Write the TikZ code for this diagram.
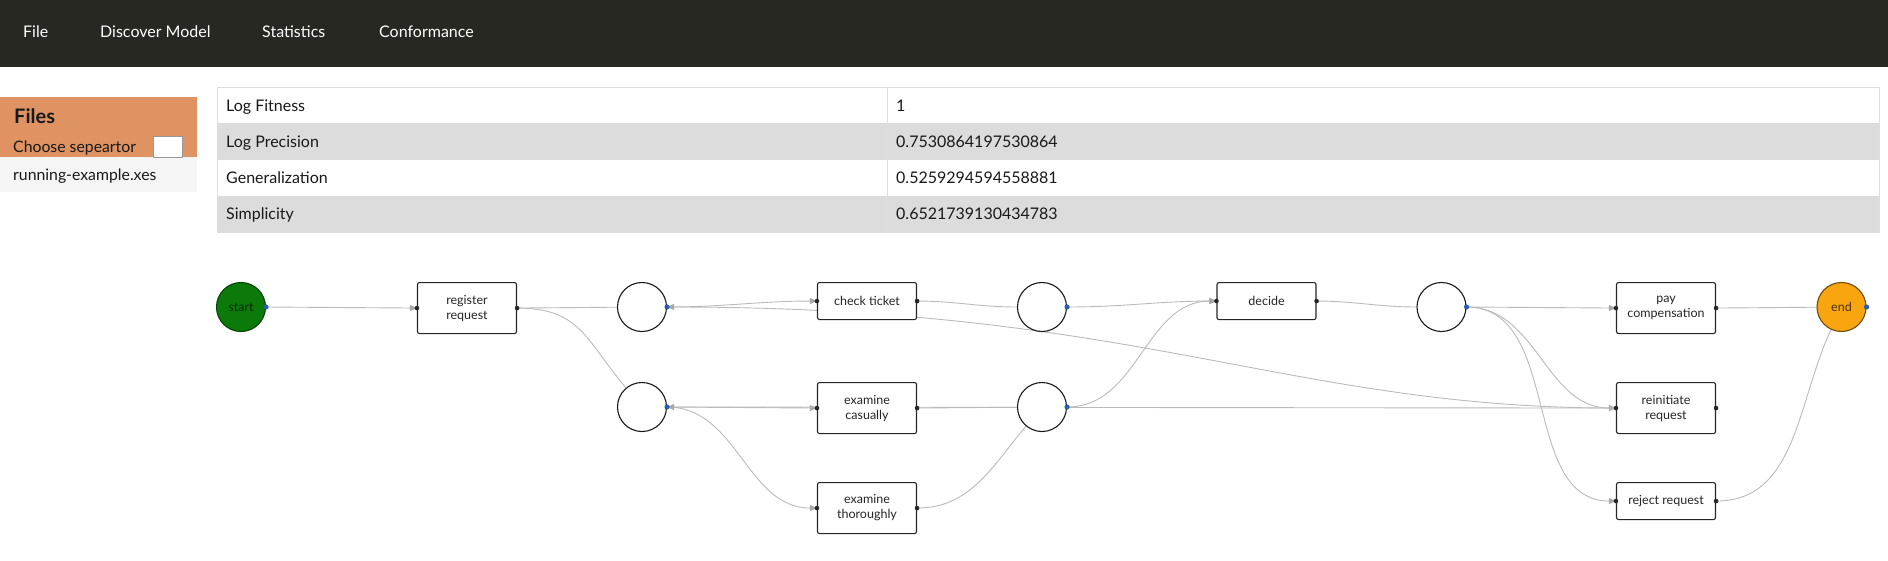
\documentclass[tikz,border=0pt]{standalone}
\usepackage{fontspec}
\setmainfont{Lato}
\usetikzlibrary{arrows.meta,backgrounds}

\definecolor{barbg}{HTML}{272822}
\definecolor{rowgray}{HTML}{DCDCDC}
\definecolor{tableline}{HTML}{DDDDDD}
\definecolor{sideorange}{HTML}{DF9262}
\definecolor{sidegray}{HTML}{F5F5F5}
\definecolor{arcgray}{HTML}{BABABA}
\definecolor{tipgray}{HTML}{A8A8A8}
\definecolor{portblue}{HTML}{2B5EA8}
\definecolor{startgreen}{HTML}{0B7A0B}
\definecolor{endorange}{HTML}{F8A50F}

\begin{document}
\begin{tikzpicture}[
  x=1pt, y=-1pt,
  menu/.style={anchor=base west, inner sep=0pt, text=white,
    font=\fontsize{16}{19}\selectfont},
  cell/.style={anchor=base west, inner sep=0pt, text=black!90,
    font=\fontsize{16}{19}\selectfont},
  trans/.style={draw=black!85, fill=white, rounded corners=2pt,
    line width=1.1pt, minimum width=99pt, anchor=north, align=center,
    text=black!85, font=\fontsize{12.5}{15}\selectfont},
  trans two/.style={trans, minimum height=51pt},
  trans one/.style={trans, minimum height=37pt},
  place/.style={circle, draw=black!90, line width=1.1pt, fill=white,
    minimum size=49pt, inner sep=0pt, font=\fontsize{12.5}{15}\selectfont},
  arc/.style={draw=arcgray, line width=0.9pt},
  arc arrow/.style={arc, -{Triangle[length=7pt,width=6pt,color=tipgray]}},
]
\useasboundingbox (0,0) rectangle (1888,560);

% menu bar
\fill[barbg] (0,0) rectangle (1888,67);
\node[menu] (mfile) at (23,37) {File};
\node[menu] (mdisc) at (100,37) {Discover Model};
\node[menu] (mstat) at (262,37) {Statistics};
\node[menu] (mconf) at (379,37) {Conformance};

% files panel
\fill[sideorange] (0,97) rectangle (197,157);
\fill[sidegray] (0,157) rectangle (197,192);
\filldraw[fill=white, draw=black!40] (153,136) rectangle (182,157);
\node[cell, font=\bfseries\fontsize{20}{24}\selectfont] (files) at (14,123) {Files};
\node[cell, font=\fontsize{15.8}{19}\selectfont] (sep) at (13,152) {Choose sepeartor};
\node[cell, font=\fontsize{15.8}{19}\selectfont] (xes) at (13,180) {running-example.xes};

% measures
\foreach \i/\c/\lab/\val in {0/white/Log Fitness/1,
    1/rowgray/Log Precision/0.7530864197530864,
    2/white/Generalization/0.5259294594558881,
    3/rowgray/Simplicity/0.6521739130434783} {
  \fill[\c] (217,{87+36.25*\i}) rectangle (1879,{123.25+36.25*\i});
  \node[cell] (lab\i) at (226,{111+36.25*\i}) {\lab};
  \node[cell] (val\i) at (896,{111+36.25*\i}) {\val};
}
\draw[tableline] (217,87) rectangle (1879,232);
\draw[tableline] (887,87) -- (887,232);

% petri net
\node[place, fill=startgreen, draw=startgreen!55!black, text=startgreen!35!black] (start) at (241,307) {start};
\node[trans two] (reg) at (467,282) {register\\request};
\node[place] (p1) at (642,307) {};
\node[place] (p2) at (642,407) {};
\node[trans one] (ct) at (867,282) {check ticket};
\node[trans two] (ec) at (867,382) {examine\\casually};
\node[trans two] (et) at (867,482) {examine\\thoroughly};
\node[place] (p3) at (1042,307) {};
\node[place] (p4) at (1042,407) {};
\node[trans one] (dec) at (1266.5,282) {decide};
\node[place] (p5) at (1441.5,307) {};
\node[trans two] (pay) at (1666,282) {pay\\compensation};
\node[trans two] (rr) at (1666,382) {reinitiate\\request};
\node[trans one] (rej) at (1666,482) {reject request};
\node[place, fill=endorange, draw=endorange!45!black, text=endorange!30!black] (end) at (1841.5,307) {end};

\begin{scope}[on background layer]
\draw[arc arrow] (start.east) -- (reg.west);
\draw[arc] (reg.east) -- (p1);
\draw[arc] (reg.east) to[out=0,in=130,looseness=1.2] (p2);
\draw[arc arrow] (p1.east) to[out=0,in=180] (ct.west);
\draw[arc arrow] (p2.east) -- (ec.west);
\draw[arc arrow] (p2.east) to[out=0,in=180] (et.west);
\draw[arc] (ct.east) to[out=0,in=180] (p3);
\draw[arc] (ec.east) -- (p4);
\draw[arc] (et.east) to[out=0,in=230] (p4);
\draw[arc arrow] (p3.east) to[out=0,in=180] (dec.west);
\draw[arc arrow] (p4.east) to[out=0,in=180] (dec.west);
\draw[arc] (dec.east) to[out=0,in=180] (p5);
\draw[arc arrow] (p5.east) -- (pay.west);
\draw[arc arrow] (p5.east) to[out=0,in=180] (rr.west);
\draw[arc arrow] (p5.east) to[out=0,in=180] (rej.west);
\draw[arc] (pay.east) -- (end);
\draw[arc] (rej.east) to[out=0,in=245] (end);
\draw[arc arrow] (rr.west) .. controls +(-328,0) and +(475,0) .. (p1.east);
\draw[arc arrow] (rr.west) -- (p2.east);
\end{scope}

% ports
\foreach \t in {reg,ct,ec,et,dec,pay,rr,rej}
  \fill[black!85] (\t.west) circle (2.3) (\t.east) circle (2.3);
\foreach \p in {start,p1,p2,p3,p4,p5,end}
  \fill[portblue] (\p.east) circle (2.6);
\end{tikzpicture}
\end{document}
